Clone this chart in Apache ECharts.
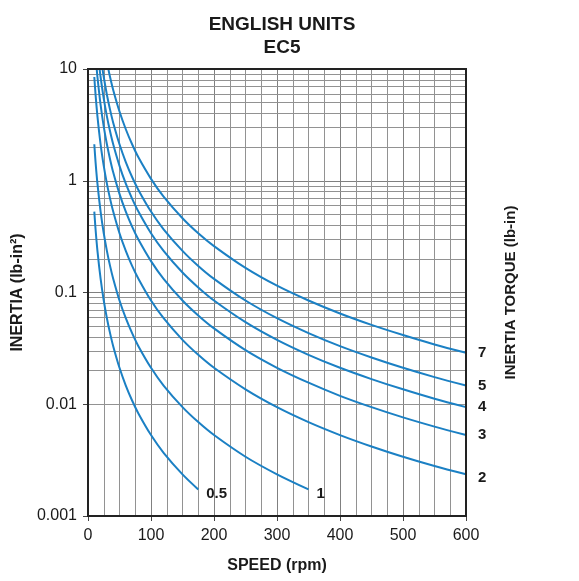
<!DOCTYPE html>
<html><head><meta charset="utf-8">
<script src="https://cdn.jsdelivr.net/npm/echarts@6/dist/echarts.min.js"></script>
<style>html,body{margin:0;padding:0;background:#fff}#c{width:579px;height:581px}</style>
</head><body><div id="c"></div>
<script>
// ---- data ----
const torqueNames = ['0.5', '1', '2', '3', '4', '5', '7'];
const speed_05 = [10, 12, 15, 20, 25, 30, 35, 40, 50, 60, 70, 80, 100, 120, 150, 175];
const inertia_05 = [0.53, 0.368, 0.236, 0.133, 0.0848, 0.0589, 0.0433, 0.0331, 0.0212, 0.0147, 0.0108, 0.00828, 0.0053, 0.00368, 0.00236, 0.00173];
const speed_1 = [10, 12, 15, 20, 25, 30, 35, 40, 50, 60, 70, 80, 100, 120, 150, 175, 200, 250, 300, 350];
const inertia_1 = [2.12, 1.47, 0.942, 0.53, 0.339, 0.236, 0.173, 0.133, 0.0848, 0.0589, 0.0433, 0.0331, 0.0212, 0.0147, 0.00942, 0.00692, 0.0053, 0.00339, 0.00236, 0.00173];
const speed_2 = [10, 12, 15, 20, 25, 30, 35, 40, 50, 60, 70, 80, 100, 120, 150, 175, 200, 250, 300, 350, 400, 450, 500, 550, 600];
const inertia_2 = [8.48, 5.89, 3.77, 2.12, 1.36, 0.942, 0.692, 0.53, 0.339, 0.236, 0.173, 0.133, 0.0848, 0.0589, 0.0377, 0.0277, 0.0212, 0.0136, 0.00942, 0.00692, 0.0053, 0.00419, 0.00339, 0.0028, 0.00236];
const speed_3 = [13, 15, 20, 25, 30, 35, 40, 50, 60, 70, 80, 100, 120, 150, 175, 200, 250, 300, 350, 400, 450, 500, 550, 600];
const inertia_3 = [11.3, 8.48, 4.77, 3.05, 2.12, 1.56, 1.19, 0.763, 0.53, 0.389, 0.298, 0.191, 0.1325, 0.0848, 0.0623, 0.0477, 0.0305, 0.0212, 0.0156, 0.0119, 0.00942, 0.00763, 0.00631, 0.0053];
const speed_4 = [17, 20, 25, 30, 35, 40, 50, 60, 70, 80, 100, 120, 150, 175, 200, 250, 300, 350, 400, 450, 500, 550, 600];
const inertia_4 = [11.7, 8.48, 5.43, 3.77, 2.77, 2.12, 1.36, 0.942, 0.692, 0.53, 0.339, 0.236, 0.151, 0.111, 0.0848, 0.0543, 0.0377, 0.0277, 0.0212, 0.0168, 0.0136, 0.0112, 0.00942];
const speed_5 = [22, 25, 30, 35, 40, 50, 60, 70, 80, 100, 120, 150, 175, 200, 250, 300, 350, 400, 450, 500, 550, 600];
const inertia_5 = [10.95, 8.48, 5.89, 4.33, 3.31, 2.12, 1.47, 1.08, 0.828, 0.53, 0.368, 0.236, 0.173, 0.1325, 0.0848, 0.0589, 0.0433, 0.0331, 0.0262, 0.0212, 0.0175, 0.0147];
const speed_7 = [31, 35, 40, 50, 60, 70, 80, 100, 120, 150, 175, 200, 250, 300, 350, 400, 450, 500, 550, 600];
const inertia_7 = [10.8, 8.48, 6.49, 4.16, 2.89, 2.12, 1.62, 1.04, 0.721, 0.462, 0.339, 0.26, 0.166, 0.115, 0.0848, 0.0649, 0.0513, 0.0416, 0.0343, 0.0289];
const xTickLabels = ['0', '100', '200', '300', '400', '500', '600'];
const yTickLabels = ['0.001', '0.01', '0.1', '1', '10'];
const minorDecades = [0.001, 0.01, 0.1, 1];
const minorMultipliers = [2, 3, 4, 5, 6, 7, 8, 9];

const curves = [
  [speed_05, inertia_05], [speed_1, inertia_1], [speed_2, inertia_2], [speed_3, inertia_3],
  [speed_4, inertia_4], [speed_5, inertia_5], [speed_7, inertia_7]
];

const FONT = '"Liberation Sans", Arial, Helvetica, sans-serif';
const BLUE = '#1b80c4';
const GRID = '#929292';
const INK = '#1a1a1a';

const minorLines = [];
minorDecades.forEach(d => minorMultipliers.forEach(m => minorLines.push({ yAxis: +(d * m).toPrecision(3) })));

const series = curves.map((c, i) => ({
  name: torqueNames[i],
  type: 'line',
  data: c[0].map((s, j) => [s, c[1][j]]),
  smooth: 0.3,
  symbol: 'none',
  clip: true,
  lineStyle: { color: BLUE, width: 2 },
  endLabel: {
    show: true,
    formatter: torqueNames[i],
    fontFamily: FONT, fontSize: 15, fontWeight: 'bold', color: INK,
    offset: i < 2 ? [0, 4] : (i === 2 ? [4, 4] : [4, 0])
  },
  z: 5
}));

series.push({
  type: 'line', data: [], silent: true,
  markLine: {
    silent: true, symbol: 'none', animation: false,
    label: { show: false },
    lineStyle: { color: GRID, width: 1, type: 'solid' },
    data: minorLines
  },
  z: 1
});

const chart = echarts.init(document.getElementById('c'), null, { renderer: 'canvas' });
chart.setOption({
  animation: false,
  backgroundColor: '#fff',
  title: {
    text: 'ENGLISH UNITS\nEC5',
    left: 277, top: 8, textAlign: 'center',
    textStyle: { fontFamily: FONT, fontSize: 19, fontWeight: 'bold', color: INK, lineHeight: 23 }
  },
  grid: { left: 88, right: 113, top: 69, bottom: 65, show: true, borderColor: '#222', borderWidth: 2, backgroundColor: 'transparent', z: 10 },
  xAxis: {
    type: 'value', min: 0, max: 600, interval: 100,
    name: 'SPEED (rpm)', nameLocation: 'middle', nameGap: 42,
    nameTextStyle: { fontFamily: FONT, fontSize: 16, fontWeight: 'bold', color: INK },
    axisLine: { show: true, lineStyle: { color: '#222', width: 2 } },
    axisTick: { show: true, length: 5, lineStyle: { color: '#444', width: 1 } },
    axisLabel: { fontFamily: FONT, fontSize: 16, color: INK, margin: 12,
      formatter: v => xTickLabels[Math.round(v / 100)] },
    splitLine: { show: true, lineStyle: { color: '#808080', width: 1 } },
    minorTick: { show: false, splitNumber: 4 },
    minorSplitLine: { show: true, lineStyle: { color: GRID, width: 1 } }
  },
  yAxis: [{
    type: 'log', logBase: 10, min: 0.001, max: 10,
    name: 'INERTIA (lb-in²)', nameLocation: 'middle', nameGap: 61, nameRotate: 90,
    nameTextStyle: { fontFamily: FONT, fontSize: 16, fontWeight: 'bold', color: INK },
    axisLine: { show: true, lineStyle: { color: '#222', width: 2 } },
    axisTick: { show: true, length: 5, lineStyle: { color: '#444', width: 1 } },
    axisLabel: { fontFamily: FONT, fontSize: 16, color: INK, margin: 11,
      formatter: v => yTickLabels[Math.round(Math.log10(v)) + 3] },
    splitLine: { show: true, lineStyle: { color: '#808080', width: 1 } }
  }, {
    type: 'log', logBase: 10, min: 0.001, max: 10, position: 'right',
    name: 'INERTIA TORQUE (lb-in)', nameLocation: 'middle', nameGap: 37, nameRotate: 90,
    nameTextStyle: { fontFamily: FONT, fontSize: 15, fontWeight: 'bold', color: INK },
    axisLine: { show: false }, axisTick: { show: false }, axisLabel: { show: false }, splitLine: { show: false }
  }],
  series: series
});
</script></body></html>
